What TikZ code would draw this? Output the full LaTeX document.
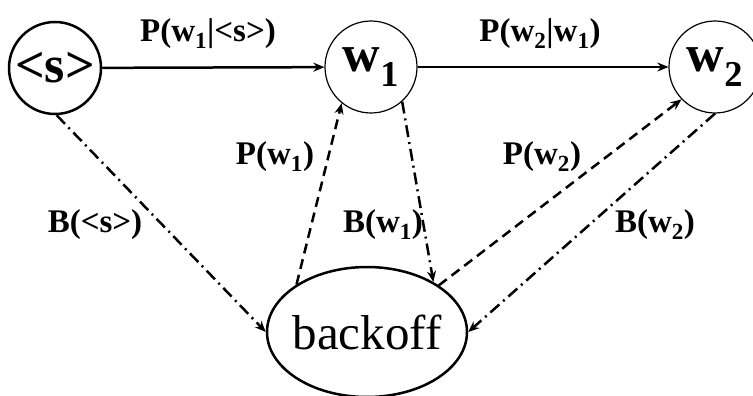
\documentclass[tikz,border=0pt]{standalone}
\usepackage{fontspec}
\setmainfont{Liberation Serif}
\usetikzlibrary{arrows.meta,positioning,shapes.geometric}

\begin{document}
\begin{tikzpicture}[x=1pt,y=-1pt,
  state/.style={circle,draw,line width=1.2pt,minimum size=92pt,inner sep=0pt,font=\fontsize{52}{56}\selectfont\bfseries},
  lbl/.style={font=\fontsize{33}{36}\selectfont\bfseries},
  trans/.style={line width=2.5pt,-{Stealth[length=11pt,width=9pt]}},
  prob/.style={trans,dash pattern=on 10pt off 6pt},
  bkof/.style={trans,dash pattern=on 12pt off 5pt on 2pt off 5pt}]
\useasboundingbox (0,0) rectangle (753,396);
% states
\node[state,line width=2.5pt] (s) at (55,68) {<s>};
\node[state] (w1) at (371,67) {w\textsubscript{1}};
\node[state] (w2) at (715,67) {w\textsubscript{2}};
\node[ellipse,draw,line width=2.5pt,inner sep=-5pt,minimum width=200pt,minimum height=130pt,
  font=\fontsize{49}{52}\selectfont] (bo) at (367,332) {backoff};
% bigram transitions
\draw[trans] (s) -- (w1);
\draw[trans] (w1) -- (w2);
% unigram and backoff
\draw[prob] (bo.146) -- (w1.-129);
\draw[prob] (bo.33) -- (w2.-136);
\draw[bkof] (s.-88) -- (bo.west);
\draw[bkof] (w1.-48) -- (bo.37);
\draw[bkof] (w2.-90) -- (bo.east);
% labels
\node[lbl] (ps) at (208,34) {P(w\textsubscript{1}|<s>)};
\node[lbl] (pw) at (540,34) {P(w\textsubscript{2}|w\textsubscript{1})};
\node[lbl] (p1) at (275,157) {P(w\textsubscript{1})};
\node[lbl] (p2) at (542,157) {P(w\textsubscript{2})};
\node[lbl] (bs) at (95,225) {B(<s>)};
\node[lbl] (b1) at (383,225) {B(w\textsubscript{1})};
\node[lbl] (b2) at (655,225) {B(w\textsubscript{2})};
\end{tikzpicture}
\end{document}
